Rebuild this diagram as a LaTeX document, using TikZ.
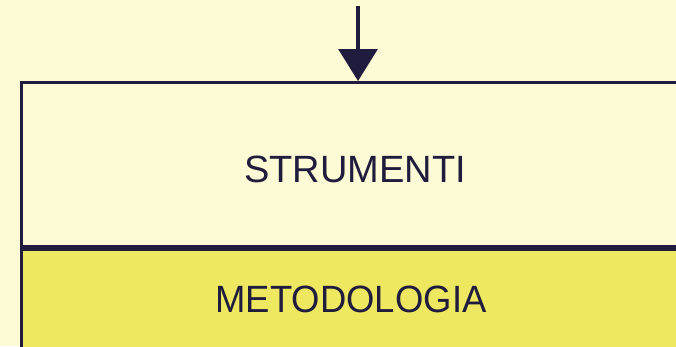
\documentclass[tikz,border=0pt]{standalone}
\usepackage{fontspec}
\setmainfont{Liberation Sans}
\usetikzlibrary{arrows.meta,positioning}
\definecolor{paper}{RGB}{253,251,214}
\definecolor{lemon}{RGB}{238,232,96}
\definecolor{ink}{RGB}{32,28,62}
\tikzset{
  >={Triangle[width=39pt,length=32pt]},
  panel/.style={draw=ink,fill=#1,line width=2.8pt,minimum width=700pt,inner sep=0pt},
  panel/.default=paper,
  word/.style={text=ink,font=\fontsize{38}{40}\selectfont,inner sep=0pt},
  flow/.style={->,line width=3.2pt,draw=ink},
}
\begin{document}
\begin{tikzpicture}[x=1pt,y=-1pt]
  \fill[paper] (0,0) rectangle (676,346);
  \useasboundingbox (0,0) rectangle (676,346);
  \clip (0,0) rectangle (676,346);
  % two stacked panels, running off the page
  \node[panel,minimum height=164pt,anchor=north west] (tools) at (20,81) {};
  \node[panel=lemon,minimum height=140pt,below=0pt of tools] (method) {};
  \node[word] (tools text) at (355,169) {STRUMENTI};
  \node[word,xscale=0.96] (method text) at (351,299) {METODOLOGIA};
  % incoming arrow
  \coordinate (src) at (358,6);
  \draw[flow] (src) -- (tools.north -| src);
\end{tikzpicture}
\end{document}
